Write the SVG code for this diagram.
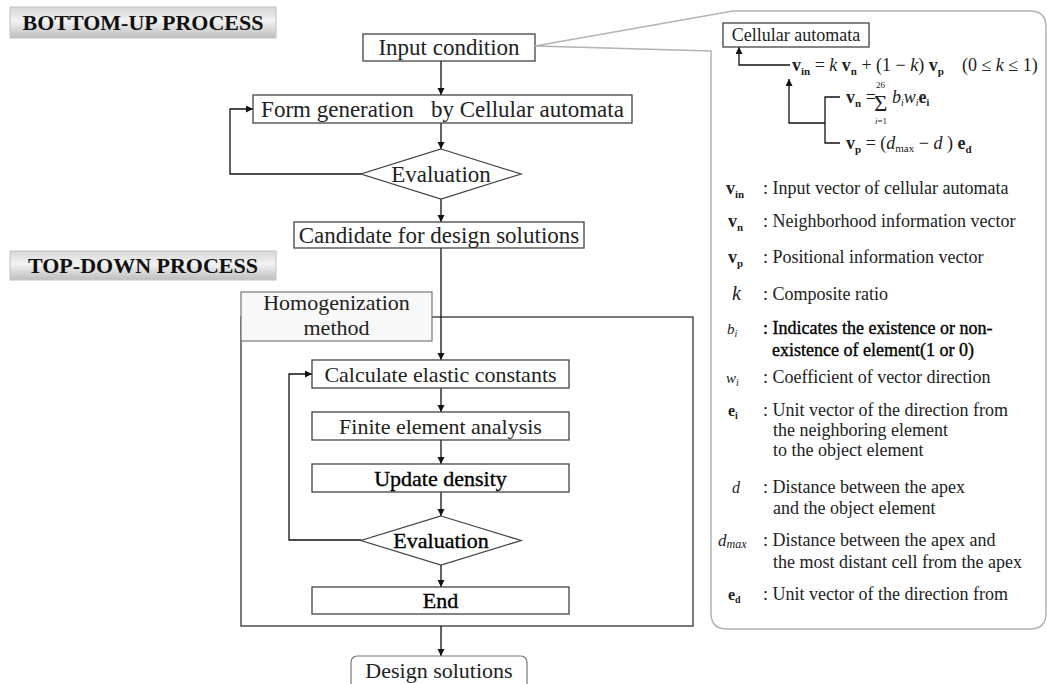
<svg xmlns="http://www.w3.org/2000/svg" width="1047" height="684" viewBox="0 0 1047 684">
<style>
text{font-family:"Liberation Serif","Times New Roman",serif;fill:#222}
.t23{font-size:23px;text-anchor:middle}
.t22{font-size:22px;text-anchor:middle}
.dk{fill:#000;stroke:#000;stroke-width:0.35}
.lbl{font-size:22px;font-weight:bold;fill:#111;text-anchor:middle}
.box{fill:#fff;stroke:#444;stroke-width:1.3}
.pbox{fill:url(#pg);stroke:#c9c9c9;stroke-width:1.2}
.conn{fill:none;stroke:#111;stroke-width:1.3}
.gray{fill:none;stroke:#b3b3b3;stroke-width:1.5}
.lg{font-size:18px}
.b{font-weight:bold}
.i{font-style:italic}
</style>
<defs>
<linearGradient id="pg" x1="0" y1="0" x2="0" y2="1">
<stop offset="0" stop-color="#d6d6d6"/>
<stop offset="0.45" stop-color="#f3f3f3"/>
<stop offset="1" stop-color="#bdbdbd"/>
</linearGradient>
<marker id="ah" markerWidth="8" markerHeight="8" refX="7" refY="3.5" orient="auto" markerUnits="userSpaceOnUse">
<path d="M0,0 L7,3.5 L0,7 z" fill="#111"/>
</marker>
</defs>

<g id="label-bottom-up">
<rect class="pbox" x="10" y="7" width="266" height="31"/>
<text class="lbl" x="143" y="30">BOTTOM-UP PROCESS</text>
</g>
<g id="label-top-down">
<rect class="pbox" x="10" y="251" width="266" height="29"/>
<text class="lbl" x="143" y="273">TOP-DOWN PROCESS</text>
</g>

<g id="homogenization">
<rect x="241" y="317" width="452" height="309" fill="none" stroke="#333" stroke-width="1.3"/>
<rect x="241" y="292" width="191" height="49" fill="#f8f8f8" stroke="#777" stroke-width="1.2"/>
<text class="t22" x="336.5" y="310">Homogenization</text>
<text class="t22" x="336.5" y="335">method</text>
</g>

<g id="connectors">
<path class="conn" d="M441,61 V95" marker-end="url(#ah)"/>
<path class="conn" d="M441,123 V149" marker-end="url(#ah)"/>
<path class="conn" d="M441,199 V222" marker-end="url(#ah)"/>
<path class="conn" d="M441,248 V360" marker-end="url(#ah)"/>
<path class="conn" d="M441,388 V412" marker-end="url(#ah)"/>
<path class="conn" d="M441,440 V464" marker-end="url(#ah)"/>
<path class="conn" d="M441,492 V516" marker-end="url(#ah)"/>
<path class="conn" d="M441,565 V587" marker-end="url(#ah)"/>
<path class="conn" d="M441,626 V656" marker-end="url(#ah)"/>
<path class="conn" d="M361,174 H230 V109 H253" marker-end="url(#ah)"/>
<path class="conn" d="M361,540 H289 V374 H312" marker-end="url(#ah)"/>
<path class="conn" d="M790,65 H739 V47" marker-end="url(#ah)"/>
<path class="conn" d="M840,97 H825 V143 H840 M825,123 H789 V79" marker-end="url(#ah)"/>
</g>

<g id="input-condition">
<rect class="box" x="363" y="34" width="172" height="27"/>
<text class="t23" x="449" y="55">Input condition</text>
</g>
<g id="form-generation">
<rect class="box" x="253" y="95" width="379" height="28"/>
<text class="t23" x="442.5" y="117">Form generation &#160;&#160;by Cellular automata</text>
</g>
<g id="evaluation-1">
<polygon class="box" points="441,149 521,174 441,199 361,174"/>
<text class="t23" x="441" y="182">Evaluation</text>
</g>
<g id="candidate">
<rect class="box" x="294" y="222" width="290" height="26"/>
<text class="t23" x="439" y="243">Candidate for design solutions</text>
</g>
<g id="calculate">
<rect class="box" x="312" y="360" width="257" height="28"/>
<text class="t22" x="440.5" y="382">Calculate elastic constants</text>
</g>
<g id="finite">
<rect class="box" x="312" y="412" width="257" height="28"/>
<text class="t22" x="440.5" y="434">Finite element analysis</text>
</g>
<g id="update">
<rect class="box" x="312" y="464" width="257" height="28"/>
<text class="t22 dk" x="440.5" y="486">Update density</text>
</g>
<g id="evaluation-2">
<polygon class="box" points="441,516 521,540.5 441,565 361,540.5"/>
<text class="t22 dk" x="441" y="548">Evaluation</text>
</g>
<g id="end">
<rect class="box" x="312" y="587" width="257" height="27"/>
<text class="t22 dk" x="440.5" y="608">End</text>
</g>
<g id="design-solutions">
<rect x="351" y="656" width="176" height="40" rx="6" fill="#fff" stroke="#777" stroke-width="1.2"/>
<text class="t22" x="439" y="678">Design solutions</text>
</g>

<g id="callout-panel">
<path class="gray" d="M535,46 L733,11 L1030,11 Q1046,11 1046,27 L1046,613 Q1046,629 1030,629 L727,629 Q711,629 711,613 L711,51 L535,46"/>
</g>

<g id="cellular-automata">
<rect class="box" x="723" y="23" width="146" height="24"/>
<text x="796" y="41" font-size="18" text-anchor="middle">Cellular automata</text>
</g>

<g id="equations" font-size="18">
<text x="792" y="71"><tspan class="b">v</tspan><tspan class="b" font-size="11" dy="4">in</tspan><tspan dy="-4"> = </tspan><tspan class="i">k</tspan><tspan class="b"> v</tspan><tspan class="b" font-size="11" dy="4">n</tspan><tspan dy="-4"> + (1 − </tspan><tspan class="i">k</tspan><tspan>) </tspan><tspan class="b">v</tspan><tspan class="b" font-size="11" dy="4">p</tspan><tspan dy="-4">&#160;&#160;&#160; (0 ≤ </tspan><tspan class="i">k</tspan><tspan> ≤ 1)</tspan></text>
<text x="846" y="103"><tspan class="b">v</tspan><tspan class="b" font-size="11" dy="4">n</tspan><tspan dy="-4"> = </tspan></text>
<text x="874" y="111" font-size="23">Σ</text>
<text x="876" y="88" font-size="9">26</text>
<text x="875" y="124" font-size="9"><tspan class="i">i</tspan>=1</text>
<text x="892" y="103"><tspan class="i">b</tspan><tspan class="i" font-size="10" dy="3">i</tspan><tspan class="i" dy="-3">w</tspan><tspan class="i" font-size="10" dy="3">i</tspan><tspan class="b" dy="-3">e</tspan><tspan class="b" font-size="10" dy="3">i</tspan></text>
<text x="846" y="149"><tspan class="b">v</tspan><tspan class="b" font-size="11" dy="4">p</tspan><tspan dy="-4"> = (</tspan><tspan class="i">d</tspan><tspan font-size="11" dy="3">max</tspan><tspan dy="-3"> − </tspan><tspan class="i">d</tspan><tspan> ) </tspan><tspan class="b">e</tspan><tspan class="b" font-size="11" dy="4">d</tspan></text>
</g>

<g id="legend" class="lg">
<text x="726" y="194"><tspan class="b">v</tspan><tspan class="b" font-size="11" dy="4">in</tspan></text>
<text x="763" y="194">: Input vector of cellular automata</text>
<text x="728" y="227"><tspan class="b">v</tspan><tspan class="b" font-size="11" dy="4">n</tspan></text>
<text x="763" y="227">: Neighborhood information vector</text>
<text x="728" y="263"><tspan class="b">v</tspan><tspan class="b" font-size="11" dy="4">p</tspan></text>
<text x="763" y="263">: Positional information vector</text>
<text x="732" y="300" font-size="20" class="i">k</text>
<text x="763" y="300">: Composite ratio</text>
<text x="727" y="334" font-size="15" fill="#555"><tspan class="i">b</tspan><tspan class="i" font-size="10" dy="3">i</tspan></text>
<text x="763" y="334" class="dk">: Indicates the existence or non-</text>
<text x="772" y="356" class="dk">existence of element(1 or 0)</text>
<text x="726" y="383" font-size="15" fill="#555"><tspan class="i">w</tspan><tspan class="i" font-size="10" dy="3">i</tspan></text>
<text x="763" y="383">: Coefficient of vector direction</text>
<text x="728" y="416" font-size="16"><tspan class="b">e</tspan><tspan class="b" font-size="10" dy="3">i</tspan></text>
<text x="763" y="416">: Unit vector of the direction from</text>
<text x="773" y="436">the neighboring element</text>
<text x="773" y="456">to the object element</text>
<text x="732" y="493" font-size="16" class="i">d</text>
<text x="763" y="493">: Distance between the apex</text>
<text x="773" y="514">and the object element</text>
<text x="718" y="546" font-size="17"><tspan class="i">d</tspan><tspan class="i" font-size="12" dy="2">max</tspan></text>
<text x="763" y="546">: Distance between the apex and</text>
<text x="773" y="568">the most distant cell from the apex</text>
<text x="728" y="600" font-size="16"><tspan class="b">e</tspan><tspan class="b" font-size="10" dy="3">d</tspan></text>
<text x="763" y="600">: Unit vector of the direction from</text>
</g>
</svg>
